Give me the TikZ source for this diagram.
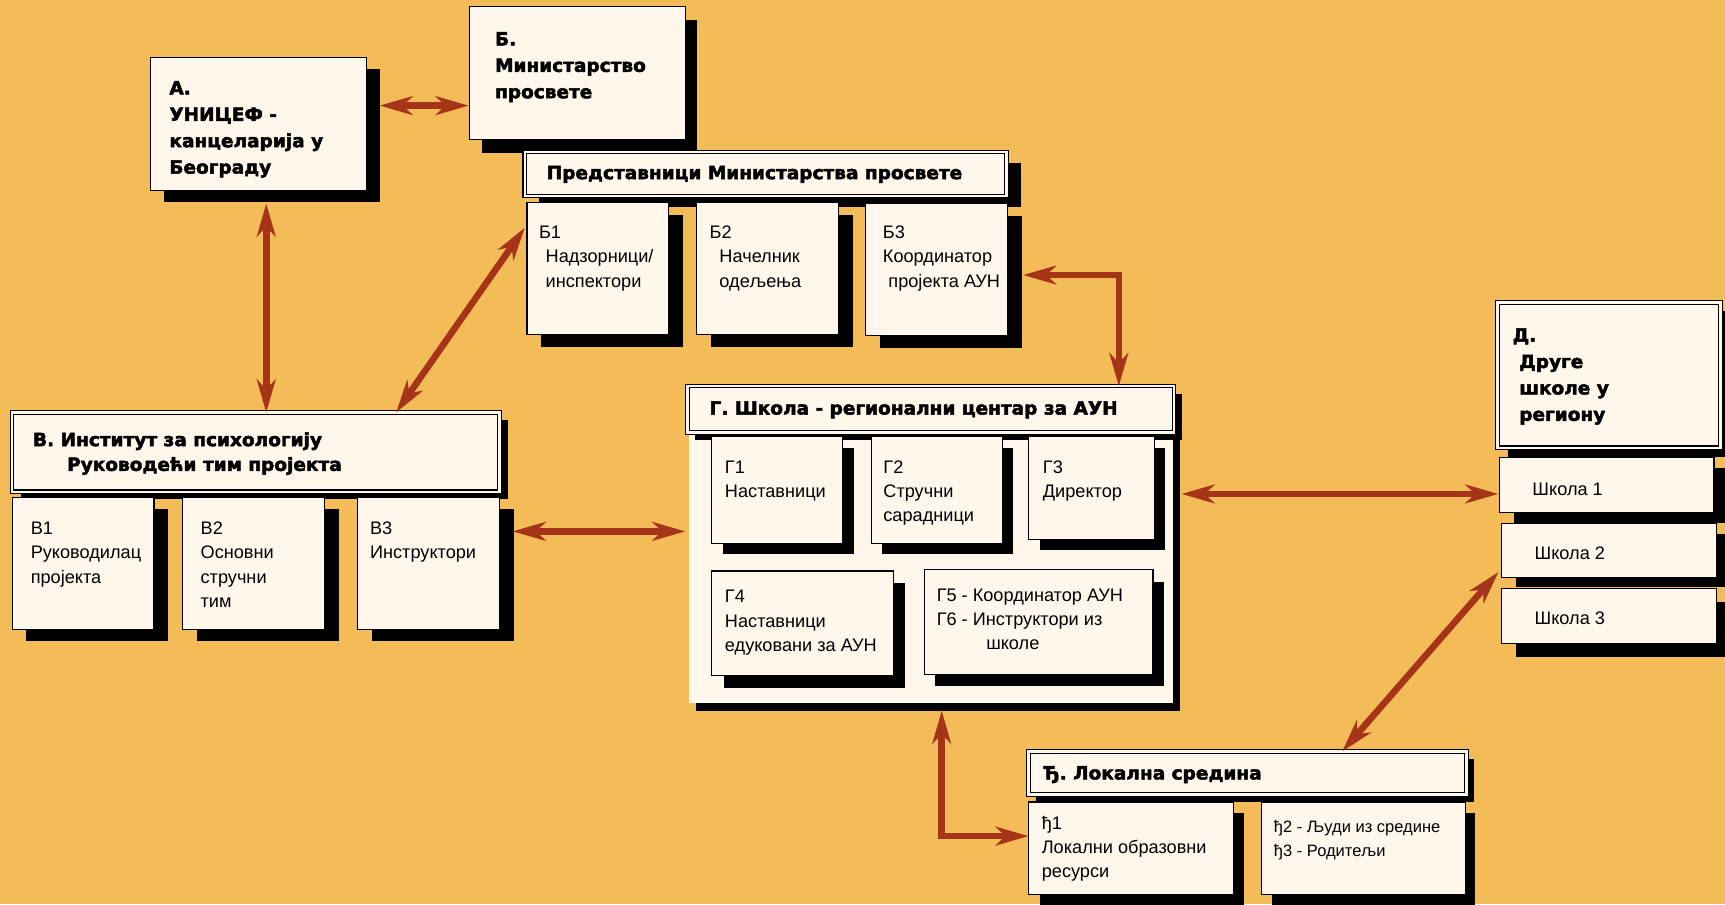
\documentclass[tikz,border=0pt]{standalone}
\usepackage{fontspec}
\setmainfont{Liberation Sans}
\newfontfamily\hdfam{DejaVu Sans}[FakeStretch=1.02, BoldFeatures={FakeBold=2.5}]
\usetikzlibrary{arrows.meta,shadows}
\definecolor{bg}{RGB}{244,188,89}
\definecolor{cream}{RGB}{255,247,236}
\definecolor{arrc}{RGB}{166,52,24}
\tikzset{
  shd/.style 2 args={drop shadow={shadow xshift=#1pt, shadow yshift=-#2pt, fill=black, opacity=1}},
  box/.style={draw=black, line width=1pt, fill=cream, inner sep=0pt, outer sep=0pt, anchor=north west},
  dbox/.style={box, line width=1pt, double=cream, double distance=2.2pt},
  txt/.style={anchor=north west, inner sep=0pt, outer sep=0pt, align=left, font=\fontsize{16.5}{22}\selectfont},
  htxt/.style={txt, font=\hdfam\bfseries\fontsize{16.5}{24}\selectfont},
  stxt/.style={txt, font=\fontsize{15}{22}\selectfont},
  arr/.style={draw=arrc, line width=6pt, {Stealth[length=30pt,width=17pt,inset=9pt]}-{Stealth[length=30pt,width=17pt,inset=9pt]}},
}
\begin{document}
\begin{tikzpicture}[x=1pt,y=-1pt]
\useasboundingbox (0,0) rectangle (1568,822);
\fill[bg] (0,0) rectangle (1568,822);
\clip (0,0) rectangle (1568,822);

% A
\node[box, shd={12}{11}, minimum width=196pt, minimum height=121pt] (A) at (137,52) {};
\node[htxt] (At) at ([xshift=17pt,yshift=-17pt]A.north west) {\strut А.\\УНИЦЕФ -\\канцеларија у\\Београду};
% B
\node[box, shd={11}{12}, minimum width=196pt, minimum height=121pt] (B) at (427,6) {};
\node[htxt] (Bt) at ([xshift=23pt,yshift=-18.5pt]B.north west) {\strut Б.\\Министарство\\просвете};
% Predstavnici
\node[dbox, shd={13}{10}, minimum width=438pt, minimum height=40pt] (PH) at (477,138) {};
\node[htxt] (PHt) at ([xshift=20pt,yshift=-8pt]PH.north west) {\strut Представници Министарства просвете};
\node[box, shd={13}{11}, minimum width=129pt, minimum height=120pt] (B1) at (479,184) {};
\node[txt] (B1t) at ([xshift=11pt,yshift=-17.6pt]B1.north west) {\strut Б1\\\hspace*{6pt}Надзорници/\\\hspace*{6pt}инспектори};
\node[box, shd={13}{11}, minimum width=129pt, minimum height=120pt] (B2) at (633,184) {};
\node[txt] (B2t) at ([xshift=12pt,yshift=-17.6pt]B2.north west) {\strut Б2\\\hspace*{9pt}Начелник\\\hspace*{9pt}одељења};
\node[box, shd={13}{11}, minimum width=129pt, minimum height=120pt] (B3) at (787,185) {};
\node[txt] (B3t) at ([xshift=15.6pt,yshift=-16.6pt]B3.north west) {\strut Б3\\Координатор\\\hspace*{5pt}пројекта АУН};
% V
\node[dbox, shd={8}{7}, minimum width=443pt, minimum height=72pt] (VH) at (11,375) {};
\node[htxt, font=\hdfam\bfseries\fontsize{16.5}{22.5}\selectfont] (VHt) at ([xshift=19pt,yshift=-14.75pt]VH.north west) {\strut В. Институт за психологију\\\hspace*{31pt}Руководећи тим пројекта};
\node[box, shd={13}{11}, minimum width=129pt, minimum height=120pt] (V1) at (11,452) {};
\node[txt] (V1t) at ([xshift=17pt,yshift=-18.6pt]V1.north west) {\strut В1\\Руководилац\\пројекта};
\node[box, shd={13}{11}, minimum width=129pt, minimum height=120pt] (V2) at (166,452) {};
\node[txt] (V2t) at ([xshift=16.4pt,yshift=-18.6pt]V2.north west) {\strut В2\\Основни\\стручни\\тим};
\node[box, shd={13}{11}, minimum width=129pt, minimum height=120pt] (V3) at (325,452) {};
\node[txt] (V3t) at ([xshift=11.4pt,yshift=-18.6pt]V3.north west) {\strut В3\\Инструктори};
% G
\node[box, draw=none, shd={7}{7}, minimum width=440pt, minimum height=249pt] (Gc) at (626,390) {};
\node[dbox, shd={7}{7}, minimum width=442pt, minimum height=42pt] (GH) at (625,351) {};
\node[htxt] (GHt) at ([xshift=20pt,yshift=-9pt]GH.north west) {\strut Г. Школа - регионални центар за АУН};
\node[box, shd={10}{10}, minimum width=119pt, minimum height=97pt] (G1) at (647,397) {};
\node[txt] (G1t) at ([xshift=12pt,yshift=-17.6pt]G1.north west) {\strut Г1\\Наставници};
\node[box, shd={10}{10}, minimum width=119pt, minimum height=97pt] (G2) at (792,397) {};
\node[txt] (G2t) at ([xshift=11pt,yshift=-17.6pt]G2.north west) {\strut Г2\\Стручни\\сарадници};
\node[box, shd={10}{10}, minimum width=114pt, minimum height=93pt] (G3) at (935,397) {};
\node[txt] (G3t) at ([xshift=13pt,yshift=-17.6pt]G3.north west) {\strut Г3\\Директор};
\node[box, shd={11}{11}, minimum width=165pt, minimum height=95pt] (G4) at (647,519) {};
\node[txt] (G4t) at ([xshift=12pt,yshift=-13.6pt]G4.north west) {\strut Г4\\Наставници\\едуковани за АУН};
\node[box, shd={10}{11}, minimum width=208pt, minimum height=95pt] (G5) at (840,518) {};
\node[txt] (G5t) at ([xshift=11.5pt,yshift=-13pt]G5.north west) {\strut Г5 - Координатор АУН\\Г6 - Инструктори из\\\hspace*{45pt}школе};
% D
\node[dbox, shd={10}{8}, minimum width=203pt, minimum height=132pt] (DD) at (1361,275) {};
\node[htxt] (DDt) at ([xshift=14pt,yshift=-18.7pt]DD.north west) {\strut Д.\\\hspace*{6pt}Друге\\\hspace*{6pt}школе у\\\hspace*{6pt}региону};
\node[box, shd={13}{9}, minimum width=195pt, minimum height=50pt] (S1) at (1363,416) {};
\node[txt] (S1t) at ([xshift=30pt,yshift=-18.6pt]S1.north west) {\strut Школа 1};
\node[box, shd={13}{9}, minimum width=195pt, minimum height=49pt] (S2) at (1365,476) {};
\node[txt] (S2t) at ([xshift=30pt,yshift=-17pt]S2.north west) {\strut Школа 2};
\node[box, shd={13}{12}, minimum width=195pt, minimum height=50pt] (S3) at (1365,535) {};
\node[txt] (S3t) at ([xshift=30pt,yshift=-17pt]S3.north west) {\strut Школа 3};
% Dj
\node[dbox, shd={7}{7}, minimum width=398pt, minimum height=39pt] (DjH) at (935,683) {};
\node[htxt] (DjHt) at ([xshift=13.5pt,yshift=-8.7pt]DjH.north west) {\strut Ђ. Локална средина};
\node[box, shd={10}{10}, minimum width=186pt, minimum height=84pt] (Dj1) at (935,729) {};
\node[txt] (Dj1t) at ([xshift=12pt,yshift=-9.6pt]Dj1.north west) {\strut ђ1\\Локални образовни\\ресурси};
\node[box, shd={9}{10}, minimum width=185pt, minimum height=84pt] (Dj2) at (1147,729) {};
\node[stxt] (Dj2t) at ([xshift=11pt,yshift=-12pt]Dj2.north west) {\strut ђ2 - Људи из средине\\ђ3 - Родитељи};

% arrows
\draw[arr] ([xshift=12pt,yshift=16.5pt]A.east) -- ([xshift=-1pt,yshift=-29.5pt]B.west);
\draw[arr] ([xshift=7pt,yshift=-12pt]A.south) -- ([xshift=9.5pt]VH.north);
\draw[arr] ([xshift=-2pt,yshift=37pt]B1.west) -- ([xshift=-94pt]VH.north east);
\draw[arr] ([xshift=14pt,yshift=-5pt]B3.east) -| ([xshift=-50pt]GH.north east);
\draw[arr] ([xshift=12pt,yshift=29pt]V3.east) -- ([xshift=-3pt,yshift=31.5pt]Gc.west);
\draw[arr] ([xshift=8pt,yshift=65.5pt]Gc.east) -- ([xshift=-1pt,yshift=-8pt]S1.west);
\draw[arr] ([xshift=-3pt,yshift=-19.5pt]S2.west) -- ([xshift=-113pt]DjH.north east);
\draw[arr] ([xshift=10pt,yshift=-7pt]Gc.south) |- ([yshift=11pt]Dj1.west);
\end{tikzpicture}
\end{document}
